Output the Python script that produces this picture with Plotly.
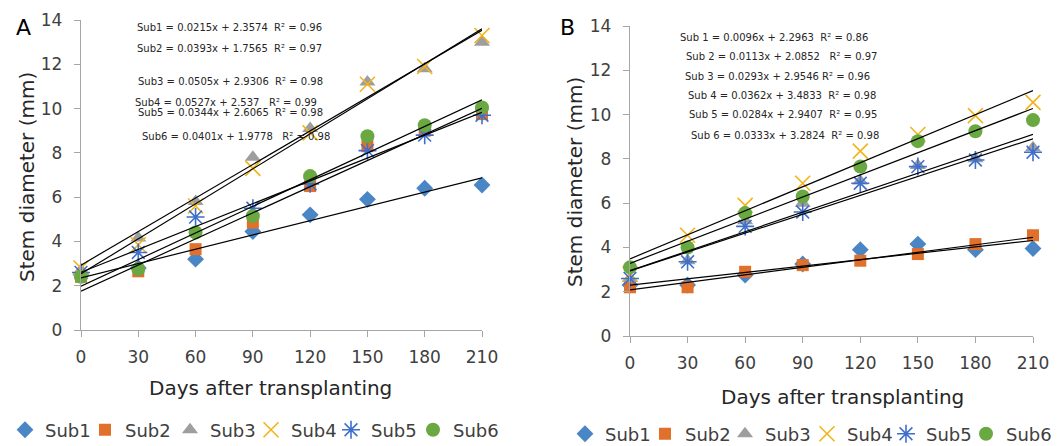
import plotly.graph_objects as go

W, H = 1059, 446

days = [0, 30, 60, 90, 120, 150, 180, 210]
series_names = ["Sub1", "Sub2", "Sub3", "Sub4", "Sub5", "Sub6"]

# Panel A measured stem diameters (mm)
a_sub1 = [2.5, 2.8, 3.2, 4.45, 5.2, 5.9, 6.4, 6.55]
a_sub2 = [2.4, 2.65, 3.65, 4.85, 6.5, 8.3, 9.0, 9.75]
a_sub3 = [2.7, 4.15, 5.8, 7.8, 9.1, 11.2, 11.8, 13.0]
a_sub4 = [2.8, 3.85, 5.6, 7.3, 8.9, 11.1, 11.9, 13.3]
a_sub5 = [2.6, 3.5, 5.1, 5.5, 6.6, 8.1, 8.8, 9.7]
a_sub6 = [2.4, 2.75, 4.4, 5.15, 6.95, 8.75, 9.25, 10.05]

# Panel B measured stem diameters (mm)
b_sub1 = [2.3, 2.3, 2.75, 3.25, 3.9, 4.15, 3.9, 3.95]
b_sub2 = [2.2, 2.2, 2.9, 3.2, 3.4, 3.7, 4.15, 4.55]
b_sub3 = [2.6, 3.4, 5.2, 6.0, 7.0, 7.7, 8.0, 8.5]
b_sub4 = [2.8, 4.55, 5.9, 6.9, 8.35, 9.1, 9.95, 10.55]
b_sub5 = [2.6, 3.35, 4.95, 5.6, 6.9, 7.65, 7.95, 8.3]
b_sub6 = [3.1, 4.0, 5.55, 6.3, 7.65, 8.8, 9.25, 9.75]

# Trendline equations
a_slopes = [0.0215, 0.0393, 0.0505, 0.0527, 0.0344, 0.0401]
a_intercepts = [2.3574, 1.7565, 2.9306, 2.537, 2.6065, 1.9778]
a_r2 = [0.96, 0.97, 0.98, 0.99, 0.98, 0.98]
b_slopes = [0.0096, 0.0113, 0.0293, 0.0362, 0.0284, 0.0333]
b_intercepts = [2.2963, 2.0852, 2.9546, 3.4833, 2.9407, 3.2824]
b_r2 = [0.86, 0.97, 0.96, 0.98, 0.95, 0.98]
a_eq_names = ["Sub1", "Sub2", "Sub3", "Sub4", "Sub5", "Sub6"]
b_eq_names = ["Sub 1", "Sub 2", "Sub 3", "Sub 4", "Sub 5", "Sub 6"]
a_eq_gaps = [2, 2, 2, 3, 2, 3]
b_eq_gaps = [2, 3, 1, 2, 2, 2]

y_ticks = [0, 2, 4, 6, 8, 10, 12, 14]

a_data = [a_sub1, a_sub2, a_sub3, a_sub4, a_sub5, a_sub6]
b_data = [b_sub1, b_sub2, b_sub3, b_sub4, b_sub5, b_sub6]

styles = [
    dict(symbol="diamond", size=13, color="#4A86C6"),
    dict(symbol="square", size=12, color="#E0702A"),
    dict(symbol="triangle-up", size=14, color="#9E9E9E"),
    dict(symbol="x-thin-open", size=15, color="#F2B418", line=dict(color="#F2B418", width=1.6)),
    dict(symbol="asterisk-open", size=15, color="#3F6FCC", line=dict(color="#3F6FCC", width=1.6)),
    dict(symbol="circle", size=14, color="#6AA842"),
]

# legend marker positions (px) for each panel and legend row centre
a_leg_marker_x = [32, 112, 197, 278, 358, 440]
b_leg_marker_x = [592, 672, 752, 834, 913, 993]
a_leg_y, b_leg_y = 430, 434

def px(x):
    return x / W

def py(y):
    return 1 - y / H

FONT = "DejaVu Sans"
leg_font = dict(family=FONT, size=18, color="#404040")
fig = go.Figure()

legend_layout = {}
leg_counter = [0]

def new_legend(marker_x, y):
    leg_counter[0] += 1
    k = leg_counter[0]
    lid = "legend" if k == 1 else f"legend{k}"
    legend_layout[lid] = dict(
        orientation="h", x=px(marker_x - 27), y=py(y), xanchor="left", yanchor="middle",
        font=leg_font, itemwidth=30, bgcolor="rgba(0,0,0,0)")
    return lid

panels = [
    ("x", "y", a_data, a_slopes, a_intercepts, a_leg_marker_x, a_leg_y),
    ("x2", "y2", b_data, b_slopes, b_intercepts, b_leg_marker_x, b_leg_y),
]
for xa, ya, data, slopes, intercepts, leg_xs, leg_y in panels:
    for name, vals, st, lx in zip(series_names, data, styles, leg_xs):
        fig.add_trace(go.Scatter(
            x=days, y=vals, mode="markers", name=name, xaxis=xa, yaxis=ya,
            marker=st, cliponaxis=False, legend=new_legend(lx, leg_y), showlegend=True,
        ))
    for m, b in zip(slopes, intercepts):
        xs = [days[0], days[-1]]
        fig.add_trace(go.Scatter(
            x=xs, y=[m * v + b for v in xs], mode="lines", xaxis=xa, yaxis=ya,
            line=dict(color="#000000", width=1.2), showlegend=False,
            hoverinfo="skip", cliponaxis=False,
        ))

axis_common = dict(
    showline=True, linecolor="#A6A6A6", linewidth=1.3, ticks="outside",
    ticklen=6, tickcolor="#A6A6A6", tickwidth=1.3, showgrid=False,
    zeroline=False, tickfont=dict(family=FONT, size=17, color="#404040"),
    automargin=False,
)

fig.update_layout(
    width=W, height=H, margin=dict(l=0, r=0, t=0, b=0, autoexpand=False),
    paper_bgcolor="white", plot_bgcolor="white",
    xaxis=dict(domain=[px(81), px(482)], range=[0, 210], tickvals=days,
               anchor="y", ticklabelstandoff=5, **axis_common),
    yaxis=dict(domain=[py(330), py(20)], range=[0, 14], tickvals=y_ticks,
               anchor="x", ticklabelstandoff=8, **axis_common),
    xaxis2=dict(domain=[px(630), px(1033)], range=[0, 210], tickvals=days,
                anchor="y2", ticklabelstandoff=5, **axis_common),
    yaxis2=dict(domain=[py(336), py(26)], range=[0, 14], tickvals=y_ticks,
                anchor="x2", ticklabelstandoff=8, **axis_common),
    showlegend=True,
    **legend_layout,
)

def eq_text(name, m, b, r2, gap):
    return f"{name} = {m}x + {b}" + "\u00a0" * gap + f"R² = {r2:.2f}"

a_eq_pos = [(135, 28), (135, 49), (136, 82), (133, 102), (136, 112), (140, 136)]
b_eq_pos = [(678, 37), (684, 56), (683, 76), (686, 95), (687, 115), (689, 135)]

annotations = []
for names, slopes, intercepts, r2s, gaps, pos in [
    (a_eq_names, a_slopes, a_intercepts, a_r2, a_eq_gaps, a_eq_pos),
    (b_eq_names, b_slopes, b_intercepts, b_r2, b_eq_gaps, b_eq_pos),
]:
    for n, m, b, r2, g, (xp, yp) in zip(names, slopes, intercepts, r2s, gaps, pos):
        annotations.append(dict(
            text=eq_text(n, m, b, r2, g), x=px(xp), y=py(yp), xref="paper", yref="paper",
            xanchor="left", yanchor="middle", showarrow=False,
            font=dict(family=FONT, size=10, color="#262626"),
        ))

title_font = dict(family=FONT, size=20, color="#262626")
for txt, x, y, ang in [
    ("Stem diameter (mm)", 27, 177, -90),
    ("Stem diameter (mm)", 575, 182, -90),
    ("Days after transplanting", 270, 388, 0),
    ("Days after transplanting", 842, 397, 0),
]:
    annotations.append(dict(text=txt, x=px(x), y=py(y), xref="paper", yref="paper",
                            xanchor="center", yanchor="middle", showarrow=False,
                            textangle=ang, font=title_font))

for txt, x, y in [("A", 23, 28), ("B", 567, 28)]:
    annotations.append(dict(text=txt, x=px(x), y=py(y), xref="paper", yref="paper",
                            xanchor="center", yanchor="middle", showarrow=False,
                            font=dict(family=FONT, size=22, color="#000000")))

fig.update_layout(annotations=annotations)

fig.write_html("out.html", config={"displayModeBar": False},
               post_script="document.body.style.margin='0';")
